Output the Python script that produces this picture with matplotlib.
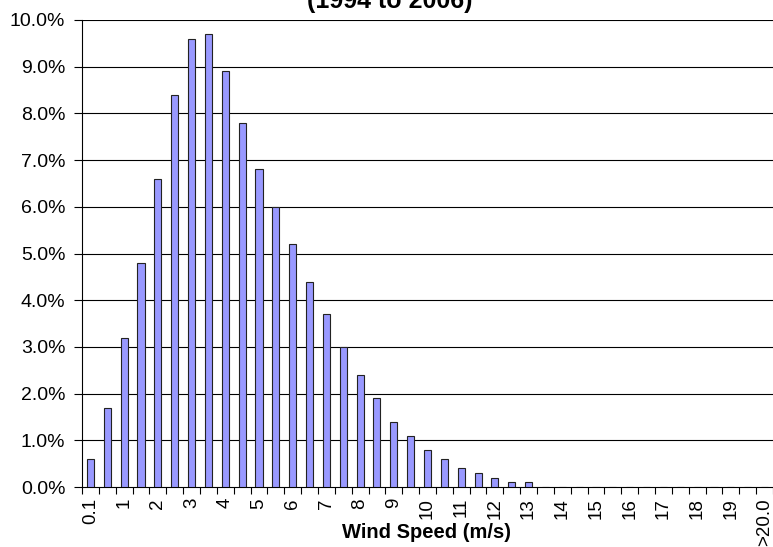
import matplotlib.pyplot as plt
import numpy as np

plt.rcParams['font.family'] = ['Liberation Sans', 'DejaVu Sans']

# wind speed bins (m/s) and share of hours in each bin (%)
speed_bins = ['0.1'] + ['%g' % v for v in np.arange(0.5, 20.0, 0.5)] + ['>20.0']
share = [0.6, 1.7, 3.2, 4.8, 6.6, 8.4, 9.6, 9.7, 8.9, 7.8,
         6.8, 6.0, 5.2, 4.4, 3.7, 3.0, 2.4, 1.9, 1.4, 1.1,
         0.8, 0.6, 0.4, 0.3, 0.2, 0.1, 0.1, 0.0, 0.0, 0.0,
         0.0, 0.0, 0.0, 0.0, 0.0, 0.0, 0.0, 0.0, 0.0, 0.0,
         0.0]
y_ticks = np.arange(0, 11, 1)

fig = plt.figure(figsize=(7.73, 5.47), dpi=100)
ax = fig.add_axes([82 / 773, 1 - 487 / 547, 1 - 82 / 773, (487 - 20) / 547])

x = np.arange(len(speed_bins))
ax.bar(x, share, width=0.42, color='#9999ff', edgecolor='#222222', linewidth=0.8, zorder=3)

ax.set_xlim(-0.5, len(speed_bins) - 0.5)
ax.set_ylim(0, 10)
ax.set_yticks(y_ticks)
ax.set_yticklabels(['%.1f%%' % v for v in y_ticks], fontsize=14)
for v in y_ticks[1:]:
    ax.axhline(v, color='black', linewidth=0.8, zorder=1)

# ticks on bin boundaries, labels every other bin
ax.set_xticks(np.arange(-0.5, len(speed_bins)), minor=False)
ax.set_xticklabels([])
ax.set_xticks(x[::2], minor=True)
ax.set_xticklabels([speed_bins[i] for i in x[::2]], minor=True, rotation=90, fontsize=13.5)
ax.tick_params(axis='x', which='minor', length=0, pad=8)
ax.tick_params(axis='x', which='major', length=5, direction='out', width=0.8)
ax.tick_params(axis='y', length=6, direction='out', width=0.8, pad=6)

for s in ['top', 'right']:
    ax.spines[s].set_visible(False)
ax.spines['left'].set_linewidth(0.8)
ax.spines['bottom'].set_linewidth(0.8)

fig.text(427 / 773, 1 - 538 / 547, 'Wind Speed (m/s)', ha='center', va='baseline',
         fontsize=14.5, fontweight='bold')
fig.text(390 / 773, 1 - 8 / 547, '(1994 to 2006)', ha='center', va='baseline',
         fontsize=18, fontweight='bold')

plt.savefig('out.png', dpi=100)
